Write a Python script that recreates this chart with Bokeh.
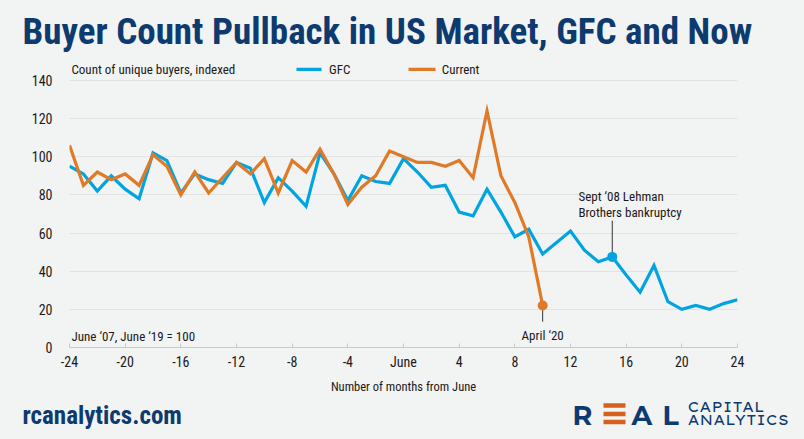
from bokeh.plotting import figure
from bokeh.layouts import column, row
from bokeh.models import Range1d, FixedTicker, CustomJSTickFormatter, Title
from bokeh.core.properties import value
from bokeh.embed import file_html
from bokeh.resources import INLINE

# ---- data ----
gfc_months = list(range(-24, 25))
gfc_values = [95, 91, 82, 90, 83, 78, 102, 98, 81, 91, 88, 86, 97, 94, 76, 89, 82, 74, 102, 91, 77, 90, 87, 86,
              99, 92, 84, 85, 71, 69, 83, 71, 58, 62, 49, 55, 61, 51, 45, 47.5, 38, 29, 43, 24, 20, 22, 20, 23, 25]
cur_months = list(range(-24, 11))
cur_values = [106, 85, 92, 88, 91, 85, 101, 95, 80, 92, 81, 89, 97, 91, 99, 81, 98, 92, 104, 91, 75, 84, 90, 103,
              100, 97, 97, 95, 98, 89, 124, 90, 76, 58, 22]
x_ticks = list(range(-24, 25, 4))
y_ticks = [0, 20, 40, 60, 80, 100, 120, 140]
lehman_month = 15
april_month = 10

BG = "#f2f3f3"
BLUE = "#00a4e0"
ORANGE = "#e07a26"
NAVY = "#0d3b6f"
TXT = "#1a1a1a"
NARROW = "'Roboto Condensed', 'Archivo Narrow', 'DejaVu Sans Condensed', sans-serif"
LOGO = "'Lexend Giga', Montserrat, 'DejaVu Sans', sans-serif"
LOGO_B = "Montserrat, 'DejaVu Sans', sans-serif"
W = 804


def txt(f, x, y, text, size, color=TXT, font=NARROW, style="normal", align="left"):
    f.text(x=[x], y=[y], text=[text], text_font=value(font), text_font_size=size, text_color=color,
           text_font_style=style, text_align=align, text_baseline="alphabetic")


# ---- main chart (page y 0..396) ----
FRAME_TOP, FRAME_BOT = 58, 348
MAIN_H = 396
y_end = 140 * (FRAME_BOT - FRAME_TOP) / (FRAME_BOT - 80)

p = figure(width=W, height=MAIN_H, output_backend="svg", toolbar_location=None, title=None,
           x_range=Range1d(-24, 24), y_range=Range1d(0, y_end),
           min_border_left=69, min_border_right=W - 737,
           min_border_top=FRAME_TOP, min_border_bottom=MAIN_H - FRAME_BOT)
p.background_fill_color = BG
p.border_fill_color = BG
p.outline_line_color = None

p.add_layout(Title(text="Buyer Count Pullback in US Market, GFC and Now", align="left", offset=-47,
                   text_font=NARROW, text_font_size="37px", text_font_style="bold",
                   text_color=NAVY, standoff=12), "above")

p.xgrid.grid_line_color = None
p.ygrid.ticker = FixedTicker(ticks=y_ticks[1:])
p.ygrid.grid_line_color = "#e2e4e4"

xa = p.xaxis[0]
xa.ticker = FixedTicker(ticks=x_ticks)
xa.formatter = CustomJSTickFormatter(code="return tick == 0 ? 'June' : tick.toString();")
xa.axis_line_color = "#c9cbcb"
xa.major_tick_line_color = "#c9cbcb"
xa.major_tick_in = 4
xa.major_tick_out = 0
xa.minor_tick_line_color = None
xa.major_label_text_font = NARROW
xa.major_label_text_font_size = "14px"
xa.major_label_text_color = TXT
xa.major_label_standoff = 6
xa.axis_label = "Number of months from June"
xa.axis_label_text_font = NARROW
xa.axis_label_text_font_style = "normal"
xa.axis_label_text_font_size = "12.5px"
xa.axis_label_text_color = TXT
xa.axis_label_standoff = 6

ya = p.yaxis[0]
ya.ticker = FixedTicker(ticks=y_ticks)
ya.axis_line_color = None
ya.major_tick_line_color = None
ya.minor_tick_line_color = None
ya.major_label_text_font = NARROW
ya.major_label_text_font_size = "14px"
ya.major_label_text_color = TXT
ya.major_label_standoff = 11

p.line(gfc_months, gfc_values, line_color=BLUE, line_width=3.2, line_join="miter")
p.line(cur_months, cur_values, line_color=ORANGE, line_width=3.2, line_join="miter")

leh_val = gfc_values[gfc_months.index(lehman_month)]
apr_val = cur_values[cur_months.index(april_month)]
p.segment(x0=[lehman_month], y0=[leh_val], x1=[lehman_month], y1=[66.5], line_color="#333333", line_width=1)
p.segment(x0=[april_month], y0=[apr_val], x1=[april_month], y1=[13.5], line_color="#333333", line_width=1)
p.scatter([lehman_month], [leh_val], size=10, fill_color=BLUE, line_color=None)
p.scatter([april_month], [apr_val], size=10, fill_color=ORANGE, line_color=None)

LY = 145.8
p.segment(x0=[-7.69], y0=[LY], x1=[-5.89], y1=[LY], line_color=BLUE, line_width=3.2)
p.segment(x0=[0.36], y0=[LY], x1=[2.30], y1=[LY], line_color=ORANGE, line_width=3.2)
txt(p, -23.86, 145.9, "Count of unique buyers, indexed", "13px")
txt(p, -5.35, 145.9, "GFC", "13px")
txt(p, 2.75, 145.9, "Current", "13px")

txt(p, 12.57, 78.9, "Sept \u201808 Lehman", "13px")
txt(p, 12.57, 70.6, "Brothers bankruptcy", "13px")
txt(p, 10.0, 6.2, "April \u201820", "13px", align="center")
txt(p, -23.86, 5.8, "June \u201807, June \u201819 = 100", "13px")

# ---- footer (page y 396..439) ----
FH = 439 - MAIN_H
footer = figure(width=W, height=FH, output_backend="svg", toolbar_location=None, title=None,
                x_range=Range1d(0, W), y_range=Range1d(FH, 0),
                min_border=0, x_axis_type=None, y_axis_type=None)
footer.background_fill_color = BG
footer.border_fill_color = BG
footer.outline_line_color = None
footer.grid.grid_line_color = None
txt(footer, 22, 19, "rcanalytics.com", "25px", color=NAVY, style="bold")
txt(footer, 572, 19, "R", "27px", color=NAVY, font=LOGO_B, style="bold")
footer.segment(x0=[603, 603, 603], y0=[9, 17.5, 25.5], x1=[625, 625, 625], y1=[9, 17.5, 25.5],
               line_color="#d4621e", line_width=4.5, line_cap="butt")
txt(footer, 631, 19, "A", "27px", color=NAVY, font=LOGO_B, style="bold")
txt(footer, 662, 19, "L", "27px", color=NAVY, font=LOGO_B, style="bold")
txt(footer, 687, 10, "CAPITAL", "14px", color=NAVY, font=LOGO)
txt(footer, 687, 23, "ANALYTICS", "14px", color=NAVY, font=LOGO)

layout = column(p, row(footer, spacing=0), spacing=0)
layout.styles = {"background-color": BG}

html = file_html(layout, INLINE)
html = html.replace("<body>", '<body style="margin:0;background:%s">' % BG, 1)
open("out.html", "w").write(html)
